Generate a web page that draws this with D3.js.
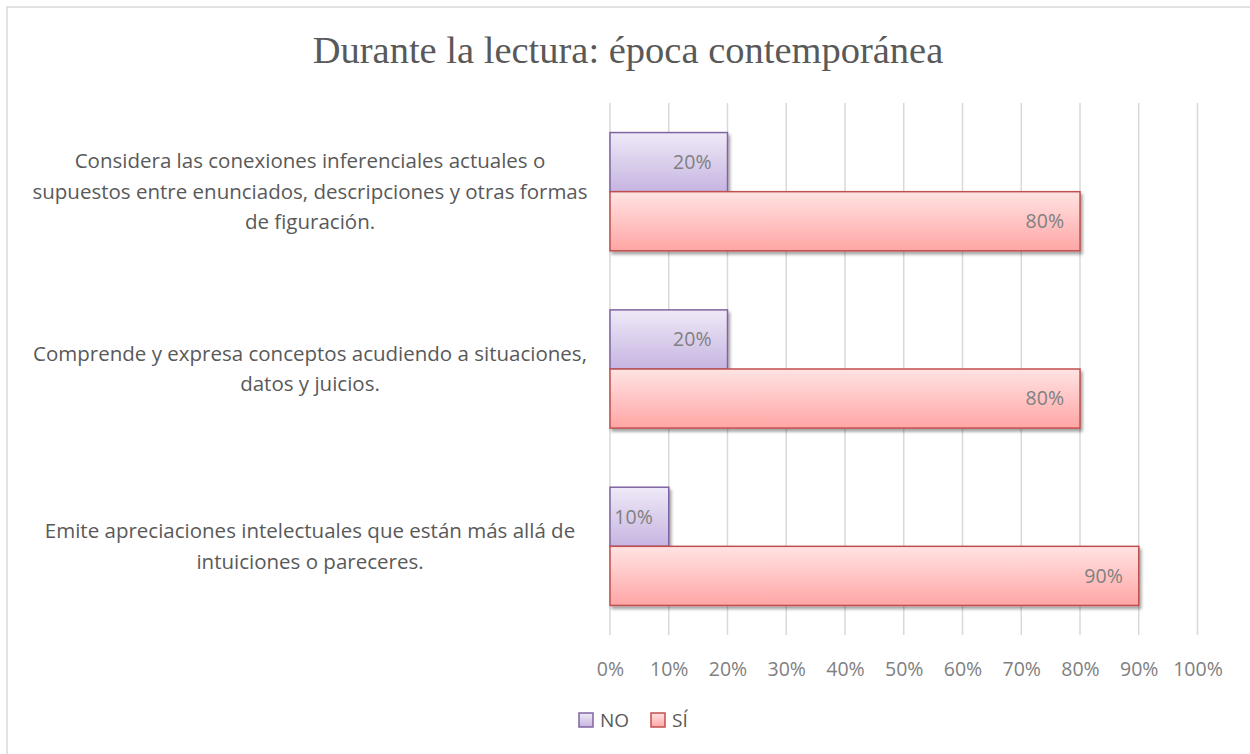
<!DOCTYPE html>
<html><head><meta charset="utf-8">
<script src="https://cdn.jsdelivr.net/npm/d3@7"></script>
<style>body{margin:0;background:#fff}svg{display:block}</style>
</head><body>
<script>
const categories = [
  ["Considera las conexiones inferenciales actuales o","supuestos entre enunciados, descripciones y otras formas","de figuración."],
  ["Comprende y expresa conceptos acudiendo a situaciones,","datos y juicios."],
  ["Emite apreciaciones intelectuales que están más allá de","intuiciones o pareceres."]
];
const seriesNames = ["NO","SÍ"];
const noValues = [0.20, 0.20, 0.10];
const siValues = [0.80, 0.80, 0.90];
const tickValues = [0,0.1,0.2,0.3,0.4,0.5,0.6,0.7,0.8,0.9,1.0];
const title = "Durante la lectura: época contemporánea";

const W=1250,H=754;
const svg=d3.select("body").append("svg").attr("width",W).attr("height",H);
const defs=svg.append("defs");
function grad(id,c1,c2){const g=defs.append("linearGradient").attr("id",id).attr("x1",0).attr("y1",0).attr("x2",0).attr("y2",1);
 g.append("stop").attr("offset","0%").attr("stop-color",c1);g.append("stop").attr("offset","100%").attr("stop-color",c2);}
grad("gNO","#efe9f7","#c6b5e1");
grad("gSI","#ffe3e3","#ffa6a5");
const f=defs.append("filter").attr("id","sh").attr("x","-5%").attr("y","-20%").attr("width","115%").attr("height","150%");
f.append("feGaussianBlur").attr("in","SourceAlpha").attr("stdDeviation",1.5).attr("result","b");
f.append("feOffset").attr("in","b").attr("dx",2).attr("dy",3).attr("result","o");
f.append("feComponentTransfer").attr("in","o").attr("result","o2").append("feFuncA").attr("type","linear").attr("slope",0.35);
const m=f.append("feMerge");m.append("feMergeNode").attr("in","o2");m.append("feMergeNode").attr("in","SourceGraphic");

svg.append("rect").attr("x",7).attr("y",7).attr("width",W+20).attr("height",H+20).attr("fill","#fff").attr("stroke","#d9d9d9").attr("stroke-width",1.5);

const x=d3.scaleLinear().domain([0,1]).range([610,1197.5]);
const y=d3.scaleBand().domain(d3.range(categories.length)).range([103,635]).paddingInner(1/3).paddingOuter(1/6);
const sub=d3.scaleBand().domain(seriesNames).range([0,y.bandwidth()]);

svg.append("text").attr("x",628).attr("y",63).attr("text-anchor","middle")
 .attr("font-family","Liberation Serif, Times New Roman, serif").attr("font-size",38.5).attr("fill","#595959").text(title);

// gridlines
svg.append("g").selectAll("line").data(tickValues).join("line")
 .attr("x1",d=>x(d)).attr("x2",d=>x(d)).attr("y1",103).attr("y2",635)
 .attr("stroke","#d9d9d9").attr("stroke-width",1.5);

const FONT="Open Sans, Segoe UI, sans-serif";
// x axis labels
const ax=svg.append("g").attr("transform","translate(0,676)")
 .call(d3.axisBottom(x).tickValues(tickValues).tickFormat(d3.format(".0%")).tickSize(0).tickPadding(0));
ax.select(".domain").remove();
ax.selectAll("text").attr("font-family",FONT).attr("font-size",19.5).attr("fill","#808080").attr("dy",0);

const data=categories.map((c,i)=>({i,vals:[{s:"NO",v:noValues[i]},{s:"SÍ",v:siValues[i]}]}));
const grp=svg.append("g").selectAll("g").data(data).join("g").attr("transform",d=>`translate(0,${y(d.i)})`);
grp.selectAll("rect").data(d=>d.vals).join("rect")
 .attr("x",x(0)).attr("y",d=>sub(d.s)).attr("width",d=>x(d.v)-x(0)).attr("height",sub.bandwidth())
 .attr("fill",d=>d.s==="NO"?"url(#gNO)":"url(#gSI)")
 .attr("stroke",d=>d.s==="NO"?"#8064a2":"#c0504d").attr("stroke-width",1.5).attr("filter","url(#sh)");
grp.selectAll("text").data(d=>d.vals).join("text")
 .attr("x",d=>x(d.v)-16).attr("y",d=>sub(d.s)+sub.bandwidth()/2).attr("dy","0.35em")
 .attr("text-anchor","end").attr("font-family",FONT).attr("font-size",19.5).attr("fill","#808080")
 .text(d=>d3.format(".0%")(d.v));

// category labels
const cl=svg.append("g").selectAll("g").data(categories).join("g");
cl.each(function(lines,i){
  const cy=y(i)+y.bandwidth()/2, n=lines.length, lh=30.5;
  d3.select(this).selectAll("text").data(lines).join("text")
   .attr("x",310).attr("y",(d,j)=>cy+(j-(n-1)/2)*lh).attr("dy","0.35em")
   .attr("text-anchor","middle").attr("font-family",FONT).attr("font-size",20.5).attr("fill","#595959").text(d=>d);
});

// legend
const lg=svg.append("g").attr("transform","translate(578,712)");
const items=[{s:"NO",x:0,fill:"url(#gNO)",st:"#8064a2"},{s:"SÍ",x:72,fill:"url(#gSI)",st:"#c0504d"}];
lg.selectAll("rect").data(items).join("rect").attr("x",d=>d.x+1).attr("y",1).attr("width",14).attr("height",14)
 .attr("fill",d=>d.fill).attr("stroke",d=>d.st).attr("stroke-width",1.5);
lg.selectAll("text").data(items).join("text").attr("x",d=>d.x+22).attr("y",8).attr("dy","0.35em")
 .attr("font-family",FONT).attr("font-size",19).attr("fill","#595959").text(d=>d.s);
</script>
</body></html>
